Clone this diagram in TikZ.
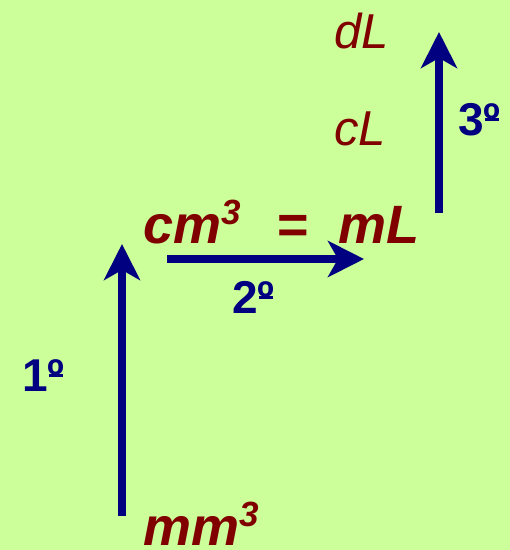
\documentclass[tikz,border=0pt]{standalone}
\usepackage{fontspec}
\setmainfont{Liberation Sans}
\usetikzlibrary{arrows.meta}
\definecolor{bg}{HTML}{CCFF99}
\definecolor{unitred}{HTML}{800000}
\definecolor{arrowblue}{HTML}{000080}
\newcommand{\cubed}{{\fontsize{35}{35}\selectfont\raisebox{19pt}{3}}}
\newcommand{\ordu}{\rlap{\hspace{0.03em}\rule[0.31em]{0.31em}{0.06em}}º}
\begin{document}
\begin{tikzpicture}[x=1pt,y=-1pt,
  unitbig/.style={inner sep=0pt,anchor=base west,text=unitred,font=\fontsize{54}{54}\selectfont\bfseries\itshape},
  unitsmall/.style={inner sep=0pt,anchor=base west,text=unitred,font=\fontsize{49}{49}\selectfont\itshape},
  steplabel/.style={inner sep=0pt,anchor=base west,text=arrowblue,font=\fontsize{46}{46}\selectfont\bfseries},
  convarrow/.style={draw=arrowblue,line width=8pt,-{Stealth[length=36pt,width=36pt,inset=10pt]}}]
\fill[bg] (0,0) rectangle (510,550);
\useasboundingbox (0,0) rectangle (510,550);
% units
\node[unitsmall] (dL) at (334,48) {dL};
\node[unitsmall] (cL) at (334,145) {cL};
\node[unitbig] (cm) at (143,243) {cm\cubed};
\node[unitbig] (eq) at (276,243) {=};
\node[unitbig] (mL) at (338,243) {mL};
\node[unitbig] (mm) at (143,545) {mm\cubed};
% step labels
\node[steplabel] (s1) at (22,391) {1\ordu};
\node[steplabel] (s2) at (232,313) {2\ordu};
\node[steplabel] (s3) at (458,135) {3\ordu};
% arrow end points
\coordinate (a1s) at (122,516);
\coordinate (a1e) at (122,244);
\coordinate (a2s) at (167,259);
\coordinate (a2e) at (364,259);
\coordinate (a3s) at (439,213);
\coordinate (a3e) at (439,32);
\draw[convarrow] (a1s) -- (a1e);
\draw[convarrow] (a2s) -- (a2e);
\draw[convarrow] (a3s) -- (a3e);
\end{tikzpicture}
\end{document}
